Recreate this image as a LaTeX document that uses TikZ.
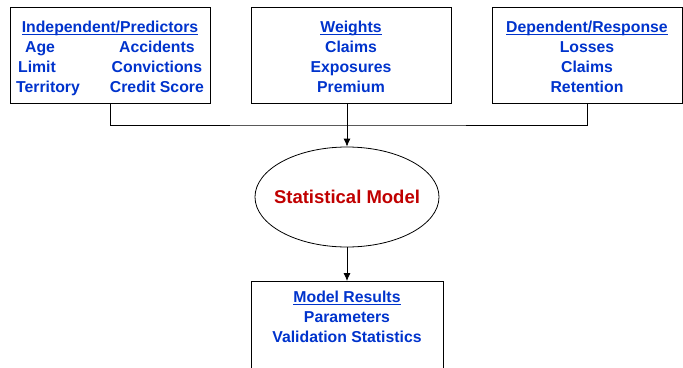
\documentclass[tikz,border=0pt]{standalone}
\usepackage{fontspec}
\setmainfont{Liberation Sans}
\usetikzlibrary{shapes.geometric,arrows.meta}
\definecolor{textblue}{RGB}{0,51,204}
\definecolor{modelred}{RGB}{192,0,0}
\newcommand{\heading}[1]{\setbox0=\hbox{#1}\rlap{\rule[-2.6pt]{\wd0}{1.5pt}}\box0}
\newcommand{\boxtop}[1]{\rule{0pt}{#1}}
\newcommand{\boxend}[1]{\rule[-#1]{0pt}{0pt}}
\tikzset{
  box/.style={draw, line width=1pt, inner sep=0pt, anchor=north, align=center,
    text=textblue, font=\fontsize{15.8}{20}\selectfont\bfseries},
  conn/.style={line width=0.8pt, >={Latex[length=8pt,width=7pt]}}
}
\begin{document}
\begin{tikzpicture}[x=1pt,y=-1pt]
\useasboundingbox (0,0) rectangle (683,367);

\node[box, minimum width=200pt] (pred) at (110,7)
  {\boxtop{25pt}\heading{Independent/Predictors}\\
   \begin{tabular}[t]{@{}l@{\hspace{30pt}}c@{}}
   \hspace{9pt}Age & Accidents\\
   \hspace{2pt}Limit & Convictions\\
   Territory & Credit Score\boxend{11pt}
   \end{tabular}};
\node[box, minimum width=200pt] (weights) at (351,7)
  {\boxtop{25pt}\heading{Weights}\\ Claims\\ Exposures\\ Premium\boxend{11pt}};
\node[box, minimum width=190pt] (resp) at (587,7)
  {\boxtop{25pt}\heading{Dependent/Response}\\ Losses\\ Claims\\ Retention\boxend{11pt}};

\node[ellipse, draw, line width=0.8pt, inner xsep=-8pt, minimum width=184pt, minimum height=100pt,
  text=modelred, font=\fontsize{18.5}{22}\selectfont\bfseries] (model) at (347,197)
  {Statistical Model};

\node[box, minimum width=192pt] (res) at (347,281)
  {\boxtop{21pt}\heading{Model Results}\\ Parameters\\ Validation Statistics\boxend{60pt}};

% connectors
\coordinate (bus) at (347,125);
\draw[conn] (pred.south) |- (bus) -| (resp.south);
\draw[conn,->] (weights.south -| model.north) -- (model.north);
\draw[conn,->] (model.south) -- (res.north);

\end{tikzpicture}
\end{document}
